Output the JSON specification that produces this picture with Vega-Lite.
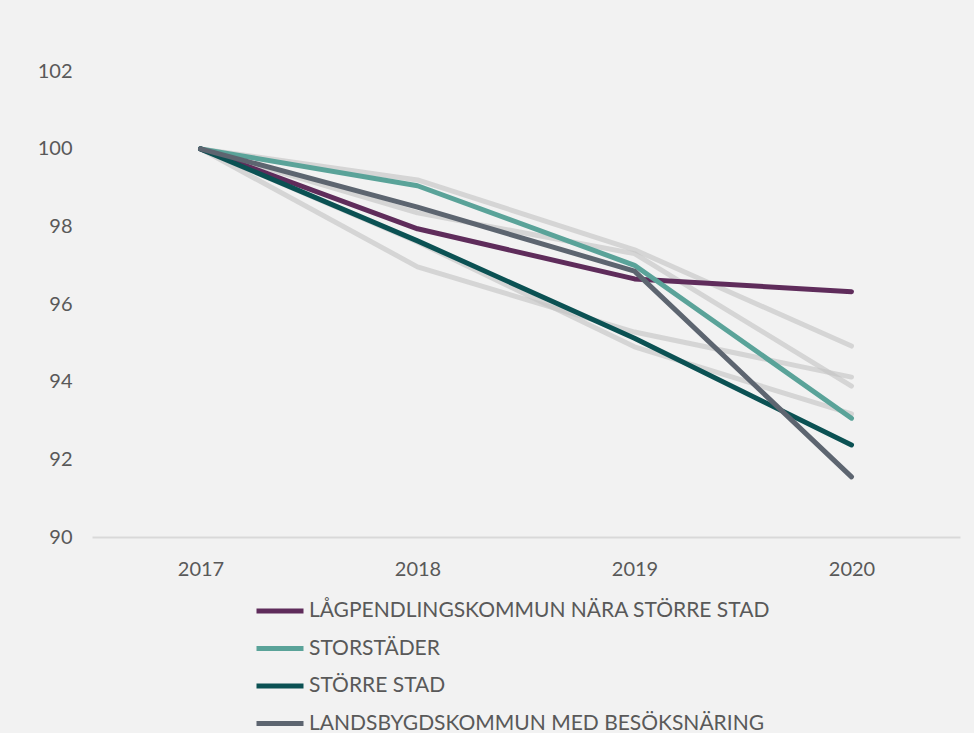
{
  "$schema": "https://vega.github.io/schema/vega-lite/v6.json",
  "width": 868,
  "height": 524,
  "autosize": {"type": "none"},
  "padding": {"left": 92, "top": 13, "right": 14, "bottom": 196},
  "background": "#f2f2f2",
  "config": {
    "view": {"stroke": null},
    "font": "Lato",
    "axis": {"labelColor": "#595959", "labelFont": "Lato", "labelFontSize": 20, "ticks": false, "grid": false, "title": null}
  },
  "datasets": {
    "main": [
      {"year": "2017", "series": "LÅGPENDLINGSKOMMUN NÄRA STÖRRE STAD", "value": 100},
      {"year": "2018", "series": "LÅGPENDLINGSKOMMUN NÄRA STÖRRE STAD", "value": 97.94},
      {"year": "2019", "series": "LÅGPENDLINGSKOMMUN NÄRA STÖRRE STAD", "value": 96.65},
      {"year": "2020", "series": "LÅGPENDLINGSKOMMUN NÄRA STÖRRE STAD", "value": 96.32},
      {"year": "2017", "series": "STORSTÄDER", "value": 100},
      {"year": "2018", "series": "STORSTÄDER", "value": 99.05},
      {"year": "2019", "series": "STORSTÄDER", "value": 97.0},
      {"year": "2020", "series": "STORSTÄDER", "value": 93.06},
      {"year": "2017", "series": "STÖRRE STAD", "value": 100},
      {"year": "2018", "series": "STÖRRE STAD", "value": 97.63},
      {"year": "2019", "series": "STÖRRE STAD", "value": 95.12},
      {"year": "2020", "series": "STÖRRE STAD", "value": 92.37},
      {"year": "2017", "series": "LANDSBYGDSKOMMUN MED BESÖKSNÄRING", "value": 100},
      {"year": "2018", "series": "LANDSBYGDSKOMMUN MED BESÖKSNÄRING", "value": 98.5},
      {"year": "2019", "series": "LANDSBYGDSKOMMUN MED BESÖKSNÄRING", "value": 96.85},
      {"year": "2020", "series": "LANDSBYGDSKOMMUN MED BESÖKSNÄRING", "value": 91.55}
    ],
    "others": [
      {"year": "2017", "group": "U1", "value": 100},
      {"year": "2018", "group": "U1", "value": 99.2},
      {"year": "2019", "group": "U1", "value": 97.4},
      {"year": "2020", "group": "U1", "value": 94.92},
      {"year": "2017", "group": "U2", "value": 100},
      {"year": "2018", "group": "U2", "value": 98.35},
      {"year": "2019", "group": "U2", "value": 97.3},
      {"year": "2020", "group": "U2", "value": 93.89},
      {"year": "2017", "group": "L1", "value": 100},
      {"year": "2018", "group": "L1", "value": 96.96},
      {"year": "2019", "group": "L1", "value": 95.28},
      {"year": "2020", "group": "L1", "value": 94.12},
      {"year": "2017", "group": "L2", "value": 100},
      {"year": "2018", "group": "L2", "value": 97.6},
      {"year": "2019", "group": "L2", "value": 94.9},
      {"year": "2020", "group": "L2", "value": 93.17}
    ]
  },
  "encoding": {
    "x": {
      "field": "year", "type": "ordinal",
      "scale": {"type": "point", "padding": 0.5},
      "axis": {"labelAngle": 0, "labelPadding": 22, "domainColor": "#d9d9d9", "domainWidth": 2}
    },
    "y": {
      "field": "value", "type": "quantitative",
      "scale": {"domain": [90, 103.5], "nice": false, "zero": false},
      "axis": {"values": [90, 92, 94, 96, 98, 100, 102], "domain": false, "labelPadding": 20}
    }
  },
  "layer": [
    {
      "data": {"name": "others"},
      "mark": {"type": "line", "strokeWidth": 5, "strokeCap": "round", "strokeJoin": "round", "color": "#c4c4c4", "opacity": 0.65},
      "encoding": {"detail": {"field": "group"}}
    },
    {
      "data": {"name": "main"},
      "transform": [
        {"calculate": "indexof(['STORSTÄDER','STÖRRE STAD','LÅGPENDLINGSKOMMUN NÄRA STÖRRE STAD','LANDSBYGDSKOMMUN MED BESÖKSNÄRING'], datum.series)", "as": "z"}
      ],
      "mark": {"type": "line", "strokeWidth": 5, "strokeCap": "round", "strokeJoin": "round"},
      "encoding": {
        "zindex": {"field": "z"},
        "color": {
          "field": "series", "type": "nominal",
          "scale": {
            "domain": ["LÅGPENDLINGSKOMMUN NÄRA STÖRRE STAD", "STORSTÄDER", "STÖRRE STAD", "LANDSBYGDSKOMMUN MED BESÖKSNÄRING"],
            "range": ["#5f2c5b", "#5aa399", "#0b5153", "#5d6570"]
          },
          "legend": {
            "title": null,
            "orient": "none",
            "legendX": 162,
            "legendY": 572,
            "direction": "vertical",
            "symbolType": "stroke",
            "symbolSize": 2209,
            "symbolStrokeWidth": 5,
            "labelFont": "Lato",
            "labelFontSize": 21,
            "labelColor": "#595959",
            "labelOffset": 3,
            "rowPadding": 1.5,
            "labelLimit": 700
          }
        }
      }
    }
  ]
}
